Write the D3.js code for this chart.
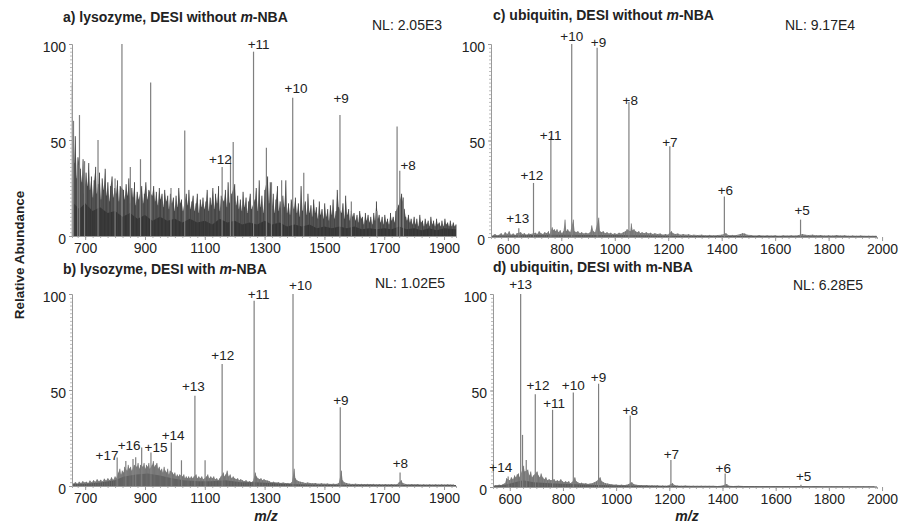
<!DOCTYPE html>
<html>
<head>
<meta charset="utf-8">
<script src="https://cdn.jsdelivr.net/npm/d3@7"></script>
<style>
  body { margin: 0; background: #fff; }
  text { font-family: "Liberation Sans", Arial, sans-serif; fill: #222; }
</style>
</head>
<body>
<div id="vis"></div>
<script>
const WIDTH = 901, HEIGHT = 527;

// axis ranges and tick labels (m/z and relative abundance)
const domainLyso = [656, 1940];
const domainUbq = [537, 1981];
const xTicksLyso = [700, 900, 1100, 1300, 1500, 1700, 1900];
const xTicksUbq = [600, 800, 1000, 1200, 1400, 1600, 1800, 2000];
const yTicks = [0, 50, 100];

const titleA = ["a) lysozyme, DESI without ", "m", "-NBA"];
const titleB = ["b) lysozyme, DESI with ", "m", "-NBA"];
const titleC = ["c) ubiquitin, DESI without ", "m", "-NBA"];
const titleD = ["d) ubiquitin, DESI with m-NBA", "", ""];
const nlLabels = ["NL: 2.05E3", "NL: 1.02E5", "NL: 9.17E4", "NL: 6.28E5"];

// ---- a) lysozyme without m-NBA : [m/z, relative abundance]
const peaksA = [[657,79],[661,60],[675,37],[681,63],[698,39],[743,50],[800,30],[823,100],[851,36],[885,40],[919,80],
  [987,25],[1033,55],[1158,36],[1186,41],[1195,49],[1263,96],[1306,46],[1323,28],[1357,29],[1394,72],[1431,33],
  [1552,63],[1590,18],[1675,13],[1743,57],[1752,34],[1764,20]];
const labelsA = [["+12",1152,37],["+11",1280,97],["+10",1405,74],["+9",1556,69],["+8",1780,34]];
const noiseA = [[658,45],[663,38],[667,52],[672,30],[676,41],[684,35],[689,28],[693,40],[697,22],
  [703,33],[708,26],[712,38],[716,24],[721,31],[726,20],[730,29],[735,36],[739,22],[744,27],[748,33],[753,19],[757,30],[762,24],[767,35],[771,21],[776,28],[781,18],[785,26],[790,31],[794,20],[799,25],
  [803,22],[808,29],[813,18],[817,26],[828,24],[832,19],[837,27],[842,21],[846,30],[851,17],[856,25],[860,20],[865,28],[869,16],[874,23],[879,19],[889,26],[894,17],[898,22],
  [903,28],[908,19],[913,24],[924,21],[929,26],[934,18],[938,23],[943,16],[948,25],[952,19],[957,22],[962,15],[966,24],[971,18],[976,21],[980,14],[985,22],[990,17],[995,20],[999,13],
  [1004,21],[1009,15],[1013,25],[1018,17],[1022,19],[1027,13],[1038,22],[1043,16],[1047,24],[1052,14],[1057,18],[1061,21],[1066,13],[1071,17],[1075,22],[1080,12],[1085,19],[1090,15],[1094,20],[1099,14],
  [1104,18],[1108,24],[1113,13],[1118,20],[1122,16],[1127,25],[1132,14],[1136,22],[1141,17],[1146,26],[1150,13],[1155,21],[1164,18],[1169,24],[1174,15],[1178,28],[1183,17],[1190,22],
  [1200,27],[1205,16],[1210,21],[1214,14],[1219,19],[1224,13],[1228,23],[1233,15],[1238,20],[1242,12],[1247,18],[1252,22],[1256,14],[1268,19],[1272,25],[1277,13],[1282,29],[1286,15],[1291,21],[1296,12],
  [1301,24],[1310,31],[1315,17],[1319,28],[1324,14],[1329,22],[1333,12],[1338,19],[1343,26],[1347,13],[1352,18],[1357,11],[1361,21],[1366,15],[1371,29],[1375,12],[1380,17],[1385,11],[1389,19],[1398,14],
  [1403,20],[1408,12],[1413,17],[1417,10],[1422,26],[1427,13],[1436,18],[1441,11],[1445,22],[1450,12],[1455,16],[1459,10],[1464,19],[1469,12],[1473,15],[1478,9],[1483,18],[1487,11],[1492,14],[1497,9],
  [1501,17],[1506,10],[1511,14],[1515,8],[1520,16],[1525,11],[1529,19],[1534,9],[1539,13],[1543,24],[1548,15],[1557,12],[1562,17],[1567,9],[1571,21],[1576,11],[1581,14],[1585,8],[1590,13],[1595,10],
  [1599,12],[1604,8],[1609,11],[1613,7],[1618,13],[1623,9],[1627,10],[1632,6],[1637,12],[1641,8],[1646,11],[1651,7],[1655,10],[1660,6],[1665,12],[1669,8],[1674,18],[1679,9],[1683,11],[1688,7],[1693,10],[1697,6],
  [1702,11],[1707,7],[1711,9],[1716,6],[1721,12],[1725,8],[1730,10],[1735,7],[1739,13],[1748,16],[1758,22],[1767,14],[1772,10],[1776,8],[1781,11],[1786,7],[1790,9],[1795,6],
  [1800,10],[1805,6],[1809,9],[1814,5],[1819,11],[1823,7],[1828,8],[1833,5],[1837,9],[1842,6],[1847,8],[1851,5],[1856,10],[1861,6],[1865,8],[1870,5],[1875,9],[1879,6],[1884,7],[1889,5],[1893,8],[1898,5],
  [1903,9],[1907,6],[1912,7],[1917,5],[1921,8],[1926,5],[1931,7],[1936,5],[1940,6]];
const floorA = [[656,18],[680,14],[700,17],[725,13],[750,15],[775,12],[800,13],[825,10],[850,12],[875,9],[900,11],[925,8],[950,10],
  [975,8],[1000,9],[1025,7],[1050,9],[1075,7],[1100,8],[1125,6],[1150,9],[1175,7],[1200,8],[1225,6],[1250,7],[1275,6],[1300,8],
  [1325,6],[1350,7],[1375,5],[1400,6],[1425,5],[1450,6],[1475,4],[1500,5],[1525,4],[1550,5],[1575,4],[1600,5],[1625,3.5],[1650,4],
  [1675,3.5],[1700,4],[1725,3.5],[1750,5],[1775,3.5],[1800,4],[1825,3],[1850,4],[1875,3],[1900,4],[1940,3.5]];

// ---- b) lysozyme with m-NBA
const peaksB = [[807,14.8],[836,13],[860,14],[869,15],[889,20],[920,17.4],[988,22.6],[1022,13.4],[1067,47],[1101,13.4],
  [1158,63.5],[1265,96.5],[1395,100],[1553,41],[1753,7]];
const labelsB = [["+17",773,13],["+16",847,18],["+15",937,17.4],["+14",994,23.5],["+13",1062,48.7],["+12",1160,65],
  ["+11",1280,97],["+10",1420,101.7],["+9",1555,41.7],["+8",1754,8.7]];
const noiseB = [[662,1.5],[668,2],[674,1.2],[680,2.2],[686,1.5],[692,2.5],[698,1.8],[704,2.2],[710,1.5],[716,2.8],[722,2],[728,3],[734,2.2],[740,3.5],[746,2.5],[752,3.2],[758,2.4],[764,3.8],[770,2.8],[776,4],[782,3],[788,4.5],[794,3.2],[800,5],
  [804,4],[811,7],[816,9],[820,6],[824,8],[828,7],[832,10],[840,8],[844,11],[848,9],[852,10],[856,8],[864,11],[873,10],[877,12],[881,9],[885,11],[893,10],[897,12],[901,9],[905,11],[909,10],[913,12],[916,9],
  [924,11],[928,13],[932,10],[936,11],[940,12],[944,9],[948,10],[952,8],[956,9],[960,7],[964,10],[968,8],[972,7],[976,9],[980,6],[984,8],[992,7],[996,6],[1000,7],[1004,5],[1008,6],[1012,5],[1016,6],
  [1026,5],[1030,6],[1034,4],[1038,5],[1042,4],[1046,5],[1050,4],[1055,5],[1060,4],[1064,5],[1071,6],[1075,4],[1080,5],[1085,4],[1090,5],[1095,3.5],[1106,5],[1110,6],[1115,4],[1120,5],[1125,4],[1130,5],
  [1135,3.5],[1140,4],[1145,3],[1150,4],[1154,5],[1162,7],[1166,5],[1170,6],[1175,8],[1180,5],[1185,6],[1190,4],[1195,5],[1200,4],[1205,3.5],[1210,4],[1215,3],[1220,3.5],[1226,3],[1232,2.5],[1238,3],
  [1244,2.2],[1250,2.5],[1256,2],[1261,2.5],[1269,7],[1273,5],[1278,4],[1283,3.5],[1288,4],[1293,3],[1298,3.5],[1304,3],[1310,2.8],[1316,2.5],[1322,2],[1330,2.2],[1338,1.8],[1346,2],[1354,1.6],[1362,1.8],
  [1370,1.5],[1378,1.6],[1386,1.4],[1391,2],[1399,9],[1403,4],[1408,3],[1414,2.5],[1420,2.2],[1428,2],[1436,1.6],[1444,1.8],[1452,1.5],[1460,1.4],[1470,1.5],[1480,1.2],[1490,1.4],[1500,1.2],[1510,1.3],
  [1520,1.1],[1530,1.2],[1540,1.1],[1548,1.5],[1557,8],[1561,3],[1566,2],[1574,1.5],[1584,1.2],[1594,1.1],[1604,1.2],[1614,1],[1624,1.1],[1634,1],[1644,1.1],[1654,1],[1664,1.1],[1674,0.9],[1684,1],
  [1694,0.9],[1704,1],[1714,0.9],[1724,1],[1734,0.9],[1744,1],[1750,2],[1757,3],[1762,1.5],[1772,1],[1782,0.9],[1792,1],[1802,0.9],[1812,1],[1822,0.8],[1832,0.9],[1842,0.8],[1852,0.9],[1862,0.8],
  [1872,0.9],[1882,0.8],[1892,0.9],[1902,0.8],[1912,0.9],[1922,0.8],[1932,0.8]];
const floorB = [[656,1],[700,1.2],[750,1.8],[800,3],[830,5],[870,6],[910,6.5],[950,5.5],[990,4],[1030,3],[1080,2.5],[1120,2.5],
  [1170,3],[1220,2],[1270,2],[1320,1.5],[1380,1],[1450,0.8],[1550,0.6],[1700,0.5],[1940,0.5]];

// ---- c) ubiquitin without m-NBA
const peaksC = [[641,4.5],[696,28],[761,52],[839,100],[934,98],[1053,70],[1206,47],[1410,21],[1695,9]];
const labelsC = [["+13",637,6.5],["+12",690,29],["+11",760,50],["+10",839,101],["+9",939,98],["+8",1058,68],
  ["+7",1206,46],["+6",1414,21],["+5",1701,11]];
const noiseC = [[545,1],[552,1.5],[560,0.8],[568,1.2],[575,2],[582,1],[590,2.5],[598,1.5],[605,3],[612,1.2],[620,1.8],[628,1],[634,2],[648,2.5],[655,1.5],[662,2],[670,1.2],[678,1.8],[685,1.5],
  [703,2.2],[710,1.5],[717,3],[724,2],[731,1.5],[738,2.5],[745,2],[752,3],[756,1.5],[766,5],[770,3.5],[774,4],[779,3],[784,4],[790,2.5],[796,3.5],[802,2],[808,3],[814,9],[819,3],[824,4],[829,3],
  [833,2.5],[845,9],[850,3],[855,2.5],[862,3],[870,2],[876,2.5],[884,1.8],[892,2.2],[900,1.8],[908,2.5],[914,6],[920,3],[926,2.5],[940,10],[945,3],[950,2.5],[957,3],[964,2],[971,2.5],[978,1.8],
  [985,2.2],[992,1.5],[1000,2],[1008,1.5],[1016,2.2],[1024,1.8],[1032,2.5],[1040,3],[1046,4],[1058,3],[1062,7],[1067,3.5],[1072,4],[1078,3],[1084,2.5],[1090,3],[1096,2],[1102,2.5],[1110,2],[1118,2.5],
  [1126,1.8],[1134,2.2],[1142,1.5],[1150,2],[1160,1.5],[1170,1.8],[1180,1.2],[1190,1.5],[1198,1.2],[1212,3],[1218,2],[1226,1.5],[1236,1.8],[1246,1.2],[1256,1.5],[1266,1.2],[1276,1.4],[1286,1],
  [1296,1.2],[1310,1],[1325,1.2],[1340,0.9],[1355,1.1],[1370,0.9],[1385,1],[1400,1.2],[1416,2],[1425,1],[1440,1.1],[1455,1],[1470,1.5],[1478,2],[1486,1.8],[1495,1.2],[1510,1],[1525,0.8],[1540,1],
  [1555,0.8],[1570,0.9],[1585,0.8],[1600,0.9],[1615,0.7],[1630,0.9],[1645,0.8],[1660,0.9],[1675,0.8],[1688,1],[1702,1.5],[1712,1.2],[1725,1],[1740,1.2],[1755,0.9],[1770,1],[1785,0.8],[1800,0.9],
  [1815,0.8],[1830,1],[1845,0.8],[1860,0.9],[1875,0.7],[1890,0.8],[1905,0.7],[1920,0.8],[1935,0.6],[1950,0.7],[1965,0.6],[1978,0.6]];
const floorC = [[537,0.6],[600,0.8],[700,1],[800,1.2],[900,1],[1000,1],[1100,0.9],[1200,0.7],[1300,0.5],[1500,0.5],[1700,0.4],[1981,0.4]];

// ---- d) ubiquitin with m-NBA
const peaksD = [[594,5.5],[641,100],[648,27],[662,14],[696,48],[761,40],[839,49],[934,53.5],[1053,37],[1206,14],[1410,7],[1695,1.2]];
const labelsD = [["+14",566,7],["+13",641,102],["+12",706,50],["+11",767,40.5],["+10",839,50],["+9",934,54],["+8",1053,37],
  ["+7",1208,14],["+6",1403,6.5],["+5",1705,2.6]];
const noiseD = [[545,1],[552,0.8],[560,1.2],[568,1],[575,1.5],[582,2],[588,4.5],[600,3.5],[606,5],[612,4],[618,6],[623,5],[628,6.5],[633,7],[637,5],[652,11],[656,8],[668,9],[674,6],[679,8],[684,5],
  [689,6],[703,8],[708,6],[713,5],[718,7],[724,5],[730,4],[736,5],[742,3.5],[748,4],[754,3.5],[767,4],[773,3],[779,3.5],[785,3],[792,4],[798,3],[804,2.5],[810,3],[816,2.5],[822,3],[828,2],[834,2.5],
  [845,5],[850,3],[856,2.5],[862,2],[870,2.2],[878,1.8],[886,2],[894,1.6],[902,1.8],[910,2],[918,2.5],[926,3],[940,5],[946,3],[952,2.5],[960,2],[968,1.8],[976,1.5],[984,1.4],[992,1.2],[1000,1.3],
  [1010,1.1],[1020,1.2],[1030,1],[1040,1.2],[1047,1.5],[1059,2.5],[1066,1.5],[1075,1.2],[1085,1],[1095,1],[1105,0.9],[1115,1],[1125,0.8],[1135,0.9],[1145,0.8],[1155,0.9],[1165,0.7],[1175,0.8],
  [1185,0.7],[1195,0.8],[1212,2],[1220,1],[1230,0.8],[1245,0.7],[1260,0.8],[1275,0.6],[1290,0.7],[1305,0.6],[1320,0.7],[1335,0.6],[1350,0.6],[1365,0.6],[1380,0.5],[1395,0.6],[1416,1.5],[1425,0.6],
  [1440,0.5],[1460,0.6],[1480,0.5],[1500,0.5],[1520,0.5],[1540,0.4],[1560,0.5],[1580,0.4],[1600,0.5],[1620,0.4],[1640,0.5],[1660,0.4],[1680,0.5],[1710,0.5],[1730,0.4],[1750,0.5],[1770,0.4],
  [1790,0.4],[1810,0.4],[1830,0.4],[1850,0.4],[1870,0.4],[1890,0.4],[1910,0.4],[1930,0.4],[1950,0.4],[1970,0.4]];
const floorD = [[537,0.6],[580,1],[620,2.5],[650,3.5],[690,2.5],[750,2],[820,1.5],[900,1.2],[1000,0.8],[1100,0.6],[1300,0.4],[1981,0.3]];

// panel layout
const panels = [
  {title: titleA, nl: nlLabels[0], domain: domainLyso, ticks: xTicksLyso, peaks: peaksA, noise: noiseA, floor: floorA, labels: labelsA,
   xr: [72, 456], yr: [236, 44], titlePos: [63, 22], nlPos: [372, 30], dense: true, xlabel: false},
  {title: titleB, nl: nlLabels[1], domain: domainLyso, ticks: xTicksLyso, peaks: peaksB, noise: noiseB, floor: floorB, labels: labelsB,
   xr: [72, 456], yr: [486, 294], titlePos: [63, 274], nlPos: [375, 288], dense: false, xlabel: true},
  {title: titleC, nl: nlLabels[2], domain: domainUbq, ticks: xTicksUbq, peaks: peaksC, noise: noiseC, floor: floorC, labels: labelsC,
   xr: [491, 877], yr: [237, 44], titlePos: [493, 20], nlPos: [785, 30], dense: false, xlabel: false},
  {title: titleD, nl: nlLabels[3], domain: domainUbq, ticks: xTicksUbq, peaks: peaksD, noise: noiseD, floor: floorD, labels: labelsD,
   xr: [493, 877], yr: [487, 294], titlePos: [493, 272], nlPos: [793, 290], dense: false, xlabel: true}
];

const FONT = '"Liberation Sans", Arial, sans-serif';

const svg = d3.select('#vis')
  .append('svg')
    .attr('width', WIDTH)
    .attr('height', HEIGHT);

panels.forEach(p => {
  const X = d3.scaleLinear().domain(p.domain).range(p.xr);
  const Y = d3.scaleLinear().domain([0, 100]).range(p.yr);
  const g = svg.append('g');
  const area = d3.area().x(d => X(d[0])).y0(Y(0)).y1(d => Y(d[1]));

  // jagged noise envelope, then the darker floor under it
  g.append('path')
    .datum(p.noise)
    .attr('d', area)
    .attr('fill', p.dense ? '#6a6a6a' : '#8c8c8c');
  g.append('path')
    .datum(p.floor)
    .attr('d', area)
    .attr('fill', p.dense ? '#2f2f2f' : '#555');

  // noise sticks
  g.selectAll('line.noise')
    .data(p.noise)
    .enter()
    .append('line')
      .attr('x1', d => X(d[0])).attr('x2', d => X(d[0]))
      .attr('y1', Y(0)).attr('y2', d => Y(d[1]))
      .attr('stroke', p.dense ? '#3f3f3f' : '#6e6e6e')
      .attr('stroke-width', p.dense ? 0.9 : 0.8);

  // main peaks
  g.selectAll('line.peak')
    .data(p.peaks)
    .enter()
    .append('line')
      .attr('x1', d => X(d[0])).attr('x2', d => X(d[0]))
      .attr('y1', Y(0)).attr('y2', d => Y(d[1]))
      .attr('stroke', '#7f7f7f')
      .attr('stroke-width', 1.2);

  // x axis: minor then major
  g.append('g')
    .attr('transform', 'translate(0,' + Y(0) + ')')
    .call(d3.axisBottom(X).tickValues(d3.range(Math.ceil(p.domain[0] / 25) * 25, p.domain[1], 25)).tickSize(2).tickFormat(''))
    .call(a => a.selectAll('line,path').attr('stroke', '#aaa'));
  g.append('g')
    .attr('transform', 'translate(0,' + Y(0) + ')')
    .call(d3.axisBottom(X).tickValues(p.ticks).tickSize(4).tickSizeOuter(0).tickFormat(d3.format('d')))
    .call(a => a.select('.domain').attr('stroke', '#999'))
    .call(a => a.selectAll('.tick line').attr('stroke', '#999'))
    .call(a => a.selectAll('.tick text').attr('font-size', '14px').attr('font-family', FONT).attr('fill', '#222').attr('dy', '0.72em'));

  // y axis: minor then major
  g.append('g')
    .attr('transform', 'translate(' + p.xr[0] + ',0)')
    .call(d3.axisLeft(Y).tickValues(d3.range(0, 101, 2)).tickSize(2).tickFormat(''))
    .call(a => a.selectAll('line,path').attr('stroke', '#bbb'));
  g.append('g')
    .attr('transform', 'translate(' + p.xr[0] + ',0)')
    .call(d3.axisLeft(Y).tickValues(yTicks).tickSize(3).tickSizeOuter(0))
    .call(a => a.select('.domain').attr('stroke', '#999'))
    .call(a => a.selectAll('.tick line').attr('stroke', '#999'))
    .call(a => a.selectAll('.tick text').attr('font-size', '14px').attr('font-family', FONT).attr('fill', '#222').attr('dy', '0.5em'));

  // peak labels
  g.selectAll('text.lab')
    .data(p.labels)
    .enter()
    .append('text')
      .attr('x', d => X(d[1]))
      .attr('y', d => Y(d[2]) - 1)
      .attr('text-anchor', 'middle')
      .attr('font-size', '13.5px')
      .text(d => d[0]);

  // title
  const t = g.append('text')
    .attr('x', p.titlePos[0]).attr('y', p.titlePos[1])
    .attr('font-size', '14px').attr('font-weight', 'bold');
  t.append('tspan').text(p.title[0]);
  t.append('tspan').attr('font-style', 'italic').text(p.title[1]);
  t.append('tspan').text(p.title[2]);

  g.append('text')
    .attr('x', p.nlPos[0]).attr('y', p.nlPos[1])
    .attr('font-size', '14px')
    .text(p.nl);

  if (p.xlabel) {
    g.append('text')
      .attr('x', (p.xr[0] + p.xr[1]) / 2 + 2).attr('y', 521)
      .attr('text-anchor', 'middle')
      .attr('font-size', '14px').attr('font-weight', 'bold').attr('font-style', 'italic')
      .text('m/z');
  }
});

svg.append('text')
  .attr('transform', 'translate(24,255) rotate(-90)')
  .attr('text-anchor', 'middle')
  .attr('font-size', '13.5px').attr('font-weight', 'bold')
  .text('Relative Abundance');
</script>
</body>
</html>
